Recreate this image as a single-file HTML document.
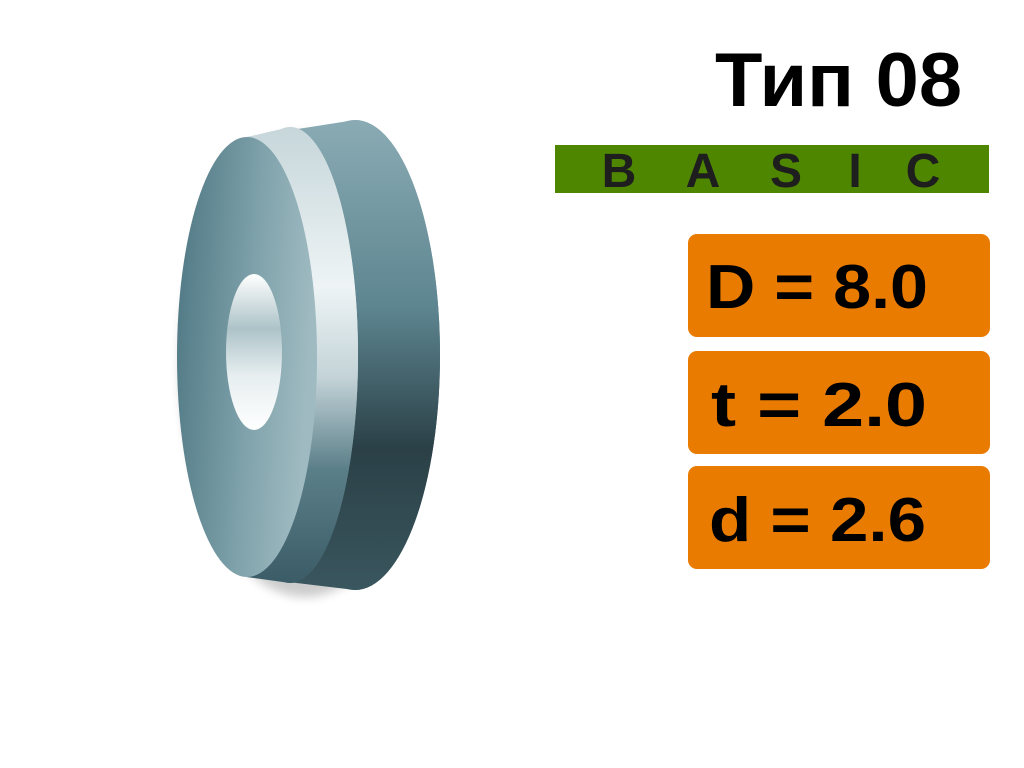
<!DOCTYPE html>
<html><head><meta charset="utf-8"><style>
html,body{margin:0;padding:0;background:#fff;width:1024px;height:768px;overflow:hidden}
</style></head><body>
<svg width="1024" height="768" viewBox="0 0 1024 768" xmlns="http://www.w3.org/2000/svg">
<defs>
<linearGradient id="back" x1="0" y1="0" x2="0" y2="1">
<stop offset="0" stop-color="#8aabb4"/><stop offset="0.4" stop-color="#5d8590"/><stop offset="0.7" stop-color="#2b4047"/><stop offset="1" stop-color="#3a565e"/></linearGradient>
<linearGradient id="cham" x1="0" y1="0" x2="0" y2="1">
<stop offset="0" stop-color="#c6d6da"/><stop offset="0.35" stop-color="#eef4f5"/><stop offset="0.55" stop-color="#c3d3d7"/><stop offset="0.75" stop-color="#5b7f89"/><stop offset="1" stop-color="#3b5c66"/></linearGradient>
<linearGradient id="face" x1="0" y1="0" x2="1" y2="0.2">
<stop offset="0" stop-color="#4d7682"/><stop offset="0.6" stop-color="#7fa2ab"/><stop offset="1" stop-color="#9fbac1"/></linearGradient>
<linearGradient id="hole" x1="0" y1="0" x2="0" y2="1">
<stop offset="0" stop-color="#ffffff"/><stop offset="0.35" stop-color="#adc3c8"/><stop offset="0.65" stop-color="#e6eef0"/><stop offset="1" stop-color="#ffffff"/></linearGradient>
<filter id="sh" x="-20%" y="-10%" width="140%" height="120%"><feGaussianBlur stdDeviation="5"/></filter>
</defs>
<ellipse cx="305" cy="365" rx="125" ry="232" fill="#000" opacity="0.2" filter="url(#sh)"/>
<path d="M247 137 L355 120 A85 235 0 0 1 355 590 L247 577 Z" fill="url(#back)"/>
<ellipse cx="355" cy="355" rx="85" ry="235" fill="url(#back)"/>
<path d="M247 137 L290 127 A68 228 0 0 1 290 583 L247 577 Z" fill="url(#cham)"/>
<ellipse cx="290" cy="355" rx="68" ry="228" fill="url(#cham)"/>
<ellipse cx="247" cy="357" rx="70" ry="220" fill="url(#face)"/>
<ellipse cx="254" cy="352" rx="28" ry="78" fill="url(#hole)"/>
<text x="715" y="106" font-family="Liberation Sans, sans-serif" font-weight="bold" font-size="76" textLength="247" lengthAdjust="spacingAndGlyphs">Тип 08</text>
<rect x="555" y="145" width="434" height="48" fill="#4f8600"/>
<g font-family="Liberation Sans, sans-serif" font-weight="bold" font-size="48" fill="#1e1e1e" text-anchor="middle">
<text x="619" y="187">B</text><text x="703" y="187">A</text><text x="786" y="187">S</text><text x="855" y="187">I</text><text x="923" y="187">C</text></g>
<g fill="#e97b00">
<rect x="688" y="234" width="302" height="103" rx="9"/>
<rect x="688" y="351" width="302" height="103" rx="9"/>
<rect x="688" y="466" width="302" height="103" rx="9"/>
</g>
<g font-family="Liberation Sans, sans-serif" font-size="62" fill="#000" font-weight="bold">
<text x="706" y="308" textLength="222" lengthAdjust="spacingAndGlyphs">D = 8.0</text>
<text x="711" y="426" textLength="216" lengthAdjust="spacingAndGlyphs">t  = 2.0</text>
<text x="709" y="541" textLength="217" lengthAdjust="spacingAndGlyphs">d = 2.6</text>
</g>
</svg>
</body></html>
